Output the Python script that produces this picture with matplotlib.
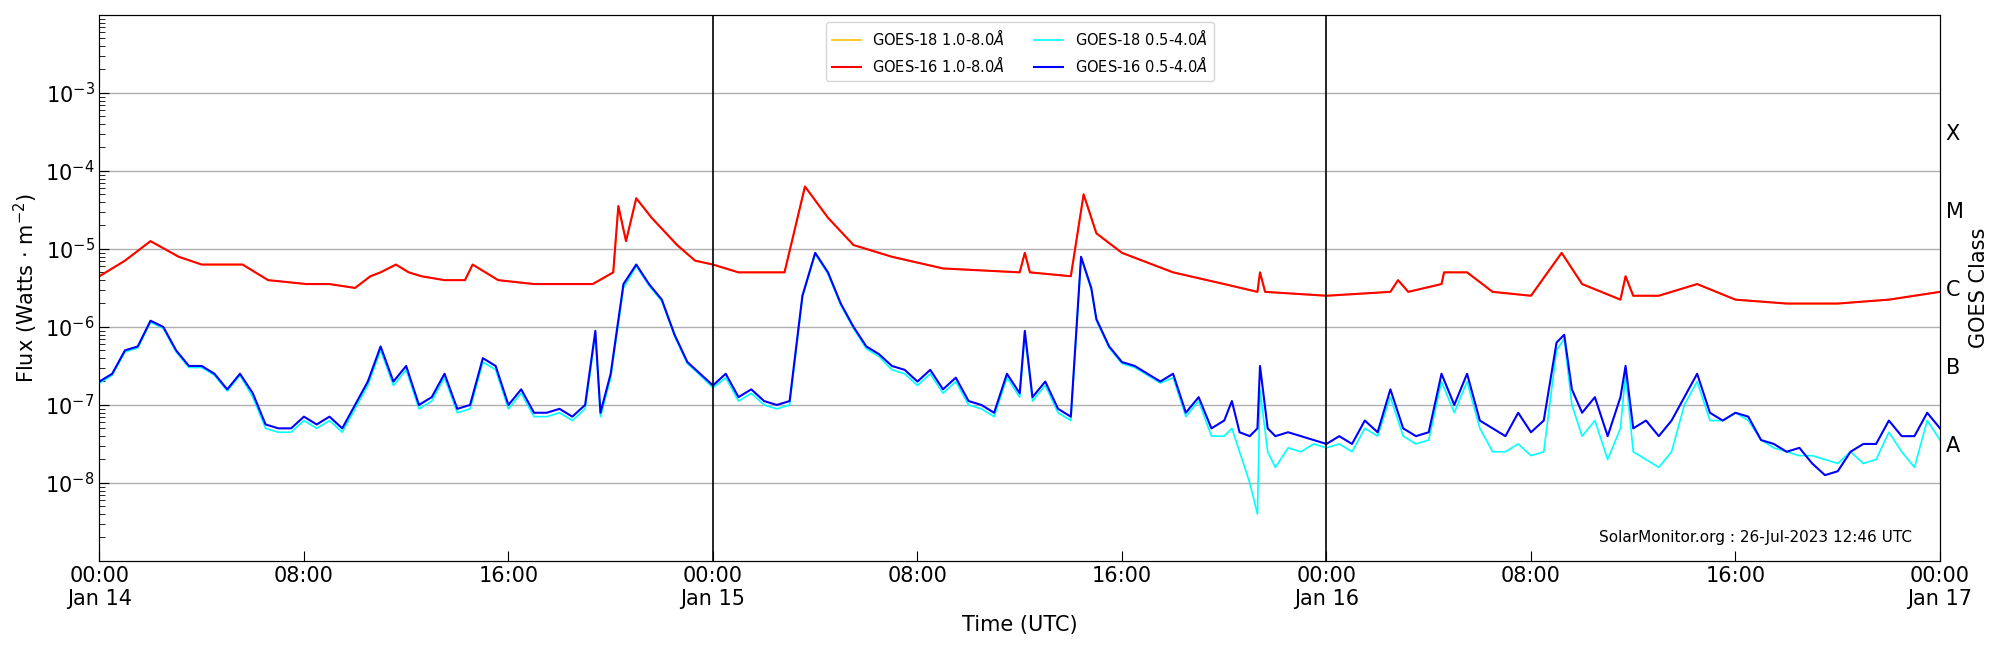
import matplotlib
matplotlib.use("Agg")
import matplotlib.pyplot as plt
import numpy as np

# hours since Jan 14 00:00 UTC, log10 flux (W m^-2)
red_hours = [0, 1, 2, 3.1, 4, 5.6, 6.6, 8.1, 9, 10, 10.6, 11, 11.6, 12.1, 12.6, 13.5, 14.3, 14.6, 15.1, 15.6, 17, 18, 19.3,
             20.1, 20.3, 20.6, 21, 21.6, 22.6, 23.3, 24, 25, 26, 26.8, 27.6, 28.5, 29.5, 31, 33, 36, 36.2, 36.4, 38, 38.5, 39, 40,
             42, 44, 45.3, 45.4, 45.6, 48, 50.5, 50.8, 51.2, 52.5, 52.6, 53.5, 54.5, 56, 57.2, 58, 59.5, 59.7, 60, 61, 62.5,
             64, 66, 68, 70, 71, 72]
red_flux = [-5.35, -5.15, -4.9, -5.1, -5.2, -5.2, -5.4, -5.45, -5.45, -5.5, -5.35, -5.3, -5.2, -5.3, -5.35, -5.4, -5.4, -5.2, -5.3,
            -5.4, -5.45, -5.45, -5.45, -5.3, -4.45, -4.9, -4.35, -4.6, -4.95, -5.15, -5.2, -5.3, -5.3, -5.3, -4.2, -4.6, -4.95,
            -5.1, -5.25, -5.3, -5.05, -5.3, -5.35, -4.3, -4.8, -5.05, -5.3, -5.45, -5.55, -5.3, -5.55, -5.6, -5.55, -5.4, -5.55,
            -5.45, -5.3, -5.3, -5.55, -5.6, -5.05, -5.45, -5.65, -5.35, -5.6, -5.6, -5.45, -5.65, -5.7, -5.7, -5.65, -5.6, -5.55]

blue_hours = [0, 0.5, 1, 1.5, 2, 2.5, 3, 3.5, 4, 4.5, 5, 5.5, 6, 6.5, 7, 7.5, 8, 8.5, 9, 9.5,
              10, 10.5, 11, 11.5, 12, 12.5, 13, 13.5, 14, 14.5, 15, 15.5, 16, 16.5, 17, 17.5, 18, 18.5, 19, 19.4,
              19.6, 20, 20.5, 21, 21.5, 22, 22.5, 23, 23.5, 24, 24.5, 25, 25.5, 26, 26.5, 27, 27.5, 28, 28.5, 29,
              29.5, 30, 30.5, 31, 31.5, 32, 32.5, 33, 33.5, 34, 34.5, 35, 35.5, 36, 36.2, 36.5, 37, 37.5, 38, 38.4,
              38.8, 39, 39.5, 40, 40.5, 41, 41.5, 42, 42.5, 43, 43.5, 44, 44.3, 44.6, 45, 45.3, 45.4, 45.7,
              46, 46.5, 47, 47.5, 48, 48.5, 49, 49.5, 50, 50.5, 51, 51.5, 52, 52.5, 53, 53.5, 54, 54.5, 55, 55.5,
              56, 56.5, 57, 57.3, 57.6, 58, 58.5, 59, 59.5, 59.7, 60, 60.5, 61, 61.5, 62, 62.5, 63, 63.5, 64, 64.5,
              65, 65.5, 66, 66.5, 67, 67.5, 68, 68.5, 69, 69.5, 70, 70.5, 71, 71.5, 72]
blue_flux = [-6.7, -6.6, -6.3, -6.25, -5.92, -6.0, -6.3, -6.5, -6.5, -6.6, -6.8, -6.6, -6.85, -7.25, -7.3, -7.3, -7.15, -7.25, -7.15, -7.3,
             -7.0, -6.7, -6.25, -6.7, -6.5, -7.0, -6.9, -6.6, -7.05, -7.0, -6.4, -6.5, -7.0, -6.8, -7.1, -7.1, -7.05, -7.15, -7.0, -6.05,
             -7.1, -6.6, -5.45, -5.2, -5.45, -5.65, -6.1, -6.45, -6.6, -6.75, -6.6, -6.9, -6.8, -6.95, -7.0, -6.95, -5.6, -5.05, -5.3, -5.7,
             -6.0, -6.25, -6.35, -6.5, -6.55, -6.7, -6.55, -6.8, -6.65, -6.95, -7.0, -7.1, -6.6, -6.85, -6.05, -6.9, -6.7, -7.05, -7.15, -5.1,
             -5.5, -5.9, -6.25, -6.45, -6.5, -6.6, -6.7, -6.6, -7.1, -6.9, -7.3, -7.2, -6.95, -7.35, -7.4, -7.3, -6.5, -7.3,
             -7.4, -7.35, -7.4, -7.45, -7.5, -7.4, -7.5, -7.2, -7.35, -6.8, -7.3, -7.4, -7.35, -6.6, -7.0, -6.6, -7.2, -7.3, -7.4, -7.1,
             -7.35, -7.2, -6.2, -6.1, -6.8, -7.1, -6.9, -7.4, -6.9, -6.5, -7.3, -7.2, -7.4, -7.2, -6.9, -6.6, -7.1, -7.2, -7.1, -7.15,
             -7.45, -7.5, -7.6, -7.55, -7.75, -7.9, -7.85, -7.6, -7.5, -7.5, -7.2, -7.4, -7.4, -7.1, -7.3]
cyan_flux = [-6.72, -6.62, -6.32, -6.27, -5.94, -6.02, -6.32, -6.52, -6.52, -6.62, -6.82, -6.62, -6.9, -7.3, -7.35, -7.35, -7.2, -7.3, -7.2, -7.35,
             -7.05, -6.75, -6.3, -6.75, -6.55, -7.05, -6.95, -6.65, -7.1, -7.05, -6.45, -6.55, -7.05, -6.85, -7.15, -7.15, -7.1, -7.2, -7.05, -6.1,
             -7.15, -6.65, -5.5, -5.22, -5.47, -5.67, -6.12, -6.47, -6.62, -6.78, -6.65, -6.95, -6.85, -7.0, -7.05, -7.0, -5.62, -5.06, -5.32, -5.72,
             -6.02, -6.28, -6.38, -6.55, -6.6, -6.75, -6.6, -6.85, -6.7, -7.0, -7.05, -7.15, -6.65, -6.9, -6.1, -6.95, -6.75, -7.1, -7.2, -5.12,
             -5.52, -5.92, -6.27, -6.47, -6.52, -6.62, -6.72, -6.65, -7.15, -6.95, -7.4, -7.4, -7.3, -7.6, -8.0, -8.4, -6.8, -7.6,
             -7.8, -7.55, -7.6, -7.5, -7.55, -7.5, -7.6, -7.3, -7.4, -6.9, -7.4, -7.5, -7.45, -6.7, -7.1, -6.7, -7.3, -7.6, -7.6, -7.5,
             -7.65, -7.6, -6.3, -6.15, -7.0, -7.4, -7.2, -7.7, -7.3, -6.6, -7.6, -7.7, -7.8, -7.6, -7.0, -6.7, -7.2, -7.2, -7.1, -7.2,
             -7.45, -7.55, -7.6, -7.65, -7.65, -7.7, -7.75, -7.6, -7.75, -7.7, -7.35, -7.6, -7.8, -7.2, -7.45]

class_labels = ["A", "B", "C", "M", "X"]
class_pos = [-7.5, -6.5, -5.5, -4.5, -3.5]
tick_hours = [0, 8, 16, 24, 32, 40, 48, 56, 64, 72]
tick_labels = ["00:00\nJan 14", "08:00", "16:00", "00:00\nJan 15", "08:00", "16:00",
               "00:00\nJan 16", "08:00", "16:00", "00:00\nJan 17"]

fig = plt.figure(figsize=(20, 6.5), dpi=100)
ax = fig.add_axes([0.0497, 0.137, 0.9203, 0.84])

ax.plot(red_hours, 10 ** np.array(red_flux), color="#ffc000", lw=1.2, label="GOES-18 1.0-8.0$\\AA$")
ax.plot(red_hours, 10 ** np.array(red_flux), color="red", lw=1.5, label="GOES-16 1.0-8.0$\\AA$")
ax.plot(blue_hours, 10 ** np.array(cyan_flux), color="cyan", lw=1.2, label="GOES-18 0.5-4.0$\\AA$")
ax.plot(blue_hours, 10 ** np.array(blue_flux), color="blue", lw=1.5, label="GOES-16 0.5-4.0$\\AA$")

ax.legend(ncol=2, loc="upper center", fontsize=10.5, bbox_to_anchor=(0.5, 1.0))

ax.set_yscale("log")
ax.set_ylim(1e-9, 1e-2)
ax.set_xlim(0, 72)
ax.set_yticks([1e-8, 1e-7, 1e-6, 1e-5, 1e-4, 1e-3])
ax.grid(axis="y", which="major", color="#b0b0b0", lw=1)
ax.axvline(24, color="black", lw=1.2)
ax.axvline(48, color="black", lw=1.2)
ax.set_xticks(tick_hours)
ax.set_xticklabels(tick_labels)
ax.tick_params(which="both", direction="in", right=True, labelsize=15)
ax.tick_params(which="major", length=7)
ax.tick_params(which="minor", length=4)
ax.set_xlabel("Time (UTC)", fontsize=15)
ax.set_ylabel("Flux (Watts $\\cdot$ m$^{-2}$)", fontsize=15)
ax.text(0.985, 0.03, "SolarMonitor.org : 26-Jul-2023 12:46 UTC", transform=ax.transAxes,
        ha="right", va="bottom", fontsize=11)

ax2 = ax.twinx()
ax2.set_ylim(-9, -2)
ax2.set_yticks(class_pos)
ax2.set_yticklabels(class_labels)
ax2.tick_params(length=0, labelsize=15, pad=4)
ax2.set_ylabel("GOES Class", fontsize=15)

fig.savefig("out.png", dpi=100)
